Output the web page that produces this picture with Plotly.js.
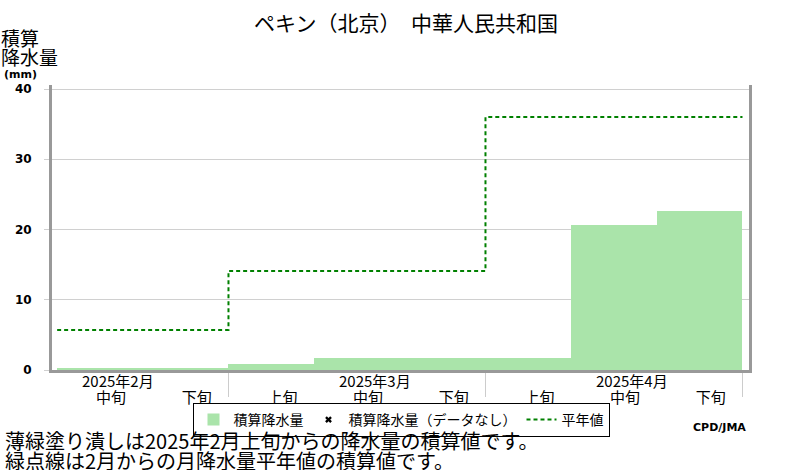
<!DOCTYPE html>
<html>
<head>
<meta charset="utf-8">
<script src="https://cdn.plot.ly/plotly-3.0.1.min.js"></script>
<style>
  body { margin: 0; background: #fff; }
  #chart { width: 800px; height: 470px; }
</style>
</head>
<body>
<div id="chart"></div>
<script>
// dekads shown on the chart (2025 Feb mid .. Apr late)
const monthLabels = ['2025年2月', '2025年3月', '2025年4月'];
const dekadLabels = ['中旬', '下旬', '上旬', '中旬', '下旬', '上旬', '中旬', '下旬'];
const dekadMonth  = [0, 0, 1, 1, 1, 2, 2, 2];
// accumulated precipitation (mm) since Feb, per dekad
const accumPrecip = [0.3, 0.3, 0.85, 1.7, 1.7, 1.7, 20.6, 22.6];
// accumulated monthly normal (mm), per dekad
const normalAccum = [5.7, 5.7, 14.1, 14.1, 14.1, 36.0, 36.0, 36.0];
// dekads without data (none)
const noDataDekads = [];
const noDataValues = [];
const yTicks = [0, 10, 20, 30, 40];

const FONT = '"Noto Sans CJK JP", "Noto Sans", sans-serif';

// plot box in pixels
const L = 52, R = 749, T = 85, B = 370;
const px = x => (x - L) / (R - L);
const py = y => (B - y) / (B - T);

const n = dekadLabels.length;
const barX = dekadLabels.map((_, i) => i + 0.5);
const labelX = dekadLabels.map((_, i) => i + 0.63);

// month boundaries where the month changes, plus the right end
const monthEdges = [];
for (let i = 1; i < n; i++) if (dekadMonth[i] !== dekadMonth[i - 1]) monthEdges.push(i);
monthEdges.push(n);

// step line: dekad start edges, plus closing point at the end
const normX = [...dekadLabels.map((_, i) => i), n];
const normY = [...normalAccum, normalAccum[n - 1]];

const traces = [
  {
    type: 'bar',
    x: barX,
    y: accumPrecip,
    width: 1,
    name: '積算降水量',
    marker: { color: '#aae4aa', line: { width: 0 } },
  },
  {
    // an empty trace would drop out of the legend, so keep one null point
    type: 'scatter',
    mode: 'markers',
    x: noDataDekads.length ? noDataDekads : [null],
    y: noDataValues.length ? noDataValues : [null],
    name: '積算降水量（データなし）',
    marker: { symbol: 'x', color: '#000', size: 6 },
  },
  {
    type: 'scatter',
    mode: 'lines',
    x: normX,
    y: normY,
    name: '平年値',
    line: { color: '#008000', width: 2, dash: '4px,3px', shape: 'hv' },
  },
];

const annotations = [];
// month labels above the 中旬 label
dekadLabels.forEach((d, i) => {
  if (d === '中旬') {
    annotations.push({
      xref: 'x', yref: 'paper', x: i + 0.71, y: py(381),
      xanchor: 'center', yanchor: 'middle', showarrow: false,
      text: monthLabels[dekadMonth[i]], font: { size: 15 },
    });
  }
});
// y axis title
annotations.push(
  { xref: 'paper', yref: 'paper', x: px(-1), y: py(38), xanchor: 'left', yanchor: 'middle',
    showarrow: false, text: '積算', font: { size: 19 } },
  { xref: 'paper', yref: 'paper', x: px(-1), y: py(57), xanchor: 'left', yanchor: 'middle',
    showarrow: false, text: '降水量', font: { size: 19 } },
  { xref: 'paper', yref: 'paper', x: px(2), y: py(74), xanchor: 'left', yanchor: 'middle',
    showarrow: false, text: '(mm)', font: { family: 'DejaVu Sans', size: 11, weight: 'bold' } },
  // credit
  { xref: 'paper', yref: 'paper', x: px(748), y: py(427), xanchor: 'right', yanchor: 'middle',
    showarrow: false, text: 'CPD/JMA', font: { family: 'DejaVu Sans', size: 11, weight: 'bold' } },
  // notes
  { xref: 'paper', yref: 'paper', x: px(3), y: py(441), xanchor: 'left', yanchor: 'middle',
    showarrow: false, text: '薄緑塗り潰しは2025年2月上旬からの降水量の積算値です。', font: { size: 20 } },
  { xref: 'paper', yref: 'paper', x: px(3), y: py(460), xanchor: 'left', yanchor: 'middle',
    showarrow: false, text: '緑点線は2月からの月降水量平年値の積算値です。', font: { size: 20 } },
);

const layout = {
  width: 800,
  height: 470,
  margin: { l: L, r: 800 - R, t: T, b: 470 - B },
  paper_bgcolor: '#fff',
  plot_bgcolor: '#fff',
  font: { family: FONT, color: '#000', size: 15 },
  title: {
    text: 'ペキン（北京）　中華人民共和国',
    x: 406 / 800, xanchor: 'center', xref: 'container',
    y: 1 - 24 / 470, yanchor: 'middle', yref: 'container',
    font: { size: 21 },
  },
  bargap: 0,
  hovermode: false,
  showlegend: true,
  legend: {
    orientation: 'h',
    x: px(401), xanchor: 'center',
    y: py(420), yanchor: 'middle',
    bordercolor: '#000', borderwidth: 1, bgcolor: '#fff',
    font: { size: 14 },
    itemwidth: 30,
    traceorder: 'normal',
  },
  xaxis: {
    range: [-0.06, 8.076],
    tickmode: 'array',
    tickvals: labelX,
    ticktext: dekadLabels,
    ticks: '',
    showgrid: false,
    zeroline: false,
    showline: true,
    linecolor: '#999',
    linewidth: 3,
    tickfont: { size: 15 },
    ticklabelstandoff: 12,
    minor: {
      tickmode: 'array',
      tickvals: monthEdges,
      ticks: 'outside',
      ticklen: 24,
      tickwidth: 1,
      tickcolor: '#ccc',
      showgrid: false,
    },
    fixedrange: true,
  },
  yaxis: {
    range: [0, 40.57],
    tickmode: 'array',
    tickvals: yTicks,
    ticks: 'outside',
    ticklen: 5,
    tickcolor: '#d0d0d0',
    showgrid: true,
    gridcolor: '#d0d0d0',
    gridwidth: 1,
    zeroline: false,
    showline: true,
    mirror: true,
    linecolor: '#999',
    linewidth: 3,
    tickfont: { family: 'DejaVu Sans', size: 12, weight: 'bold' },
    ticklabelstandoff: 10,
    fixedrange: true,
  },
  annotations,
};

Plotly.newPlot('chart', traces, layout, { displayModeBar: false, staticPlot: true });
</script>
</body>
</html>
